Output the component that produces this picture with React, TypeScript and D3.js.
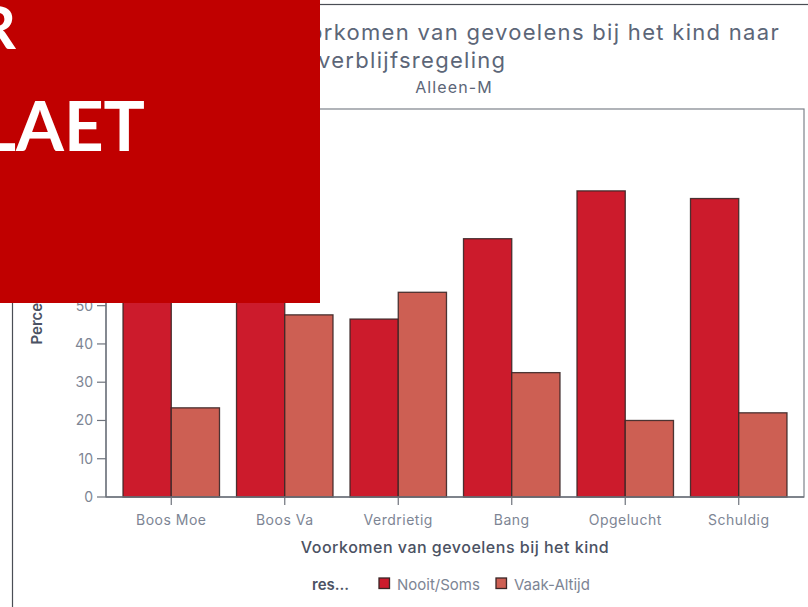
import React from "react";
import * as d3 from "d3";

const categories = ["Boos Moe", "Boos Va", "Verdrietig", "Bang", "Opgelucht", "Schuldig"];
const seriesNames = ["Nooit/Soms", "Vaak-Altijd"];
const nooitSoms = [76.7, 52.4, 46.5, 67.5, 80.0, 78.0];
const vaakAltijd = [23.3, 47.6, 53.5, 32.5, 20.0, 22.0];
const yTicks = [0, 10, 20, 30, 40, 50, 60, 70, 80, 90, 100];
const colors = ["#cc1b2c", "#cd5f53"];

const W = 808;
const H = 607;
const plot = { left: 106, right: 804, top: 109, bottom: 497 };
const FONT = "Inter, 'Noto Sans', sans-serif";

export default function App() {
  const x = d3.scaleBand<string>().domain(categories).range([plot.left, plot.right]).padding(0.15);
  const x1 = d3.scaleBand<string>().domain(seriesNames).range([0, x.bandwidth()]).padding(0);
  const y = d3.scaleLinear().domain([0, 101.4]).range([plot.bottom, plot.top]);
  const seriesValues = [nooitSoms, vaakAltijd];

  return (
    <div style={{ position: "fixed", left: 0, top: 0, width: W, height: H, background: "#fff" }}>
      <svg width={W} height={H} style={{ display: "block" }}>
        <rect x={0} y={0} width={W} height={H} fill="#fff" />
        {/* outer frame */}
        <rect x={12.5} y={4.5} width={900} height={700} fill="none" stroke="#4a4e55" strokeWidth={1.2} />

        {/* title */}
        <text x={780} y={40} textAnchor="end" fontFamily={FONT} fontSize={22} letterSpacing={1.3} fill="#5c6678">
          Voorkomen van gevoelens bij het kind naar
        </text>
        <text x={318} y={68} textAnchor="start" fontFamily={FONT} fontSize={22} letterSpacing={1.3} fill="#5c6678">
          verblijfsregeling
        </text>
        <text x={454} y={92.5} textAnchor="middle" fontFamily={FONT} fontSize={16} letterSpacing={1.1} fill="#5c6678">
          Alleen-M
        </text>

        {/* plot frame */}
        <rect x={plot.left} y={plot.top} width={plot.right - plot.left} height={plot.bottom - plot.top}
          fill="#fff" stroke="#7d828a" strokeWidth={1.2} />

        {/* bars */}
        {categories.map((c, i) => (
          <g key={c} transform={`translate(${x(c)},0)`}>
            {seriesNames.map((s, j) => {
              const v = seriesValues[j][i];
              return (
                <rect key={s} x={x1(s)} y={y(v)} width={x1.bandwidth()} height={y(0) - y(v)}
                  fill={colors[j]} stroke="#3a2626" strokeOpacity={0.9} strokeWidth={1.3} />
              );
            })}
          </g>
        ))}

        {/* y axis */}
        <line x1={plot.left} x2={plot.left} y1={plot.top} y2={plot.bottom} stroke="#6e737c" strokeWidth={1.3} />
        {yTicks.map((t) => (
          <g key={t}>
            <line x1={plot.left - 9} x2={plot.left} y1={y(t)} y2={y(t)} stroke="#6e737c" strokeWidth={1.2} />
            <text x={plot.left - 13} y={y(t)} dy="0.35em" textAnchor="end" fontFamily={FONT} fontSize={14} fill="#7d8594">
              {t}
            </text>
          </g>
        ))}
        <text transform={`translate(37,${(plot.top + plot.bottom) / 2}) rotate(-90)`} textAnchor="middle"
          dy="0.35em" fontFamily={FONT} fontSize={15} fontWeight={600} fill="#4b5263">
          Percentage
        </text>

        {/* x axis */}
        <line x1={plot.left} x2={plot.right} y1={plot.bottom} y2={plot.bottom} stroke="#6e737c" strokeWidth={1.3} />
        {categories.map((c) => {
          const cx = (x(c) ?? 0) + x.bandwidth() / 2;
          return (
            <g key={c}>
              <line x1={cx} x2={cx} y1={plot.bottom} y2={plot.bottom + 8} stroke="#6e737c" strokeWidth={1.2} />
              <text x={cx} y={525} textAnchor="middle" fontFamily={FONT} fontSize={14} letterSpacing={0.5} fill="#7d8594">
                {c}
              </text>
            </g>
          );
        })}
        <text x={(plot.left + plot.right) / 2} y={553} textAnchor="middle" fontFamily={FONT} fontSize={16}
          fontWeight={500} letterSpacing={0.5} fill="#4b5263">
          Voorkomen van gevoelens bij het kind
        </text>

        {/* legend */}
        <text x={312} y={590} fontFamily={FONT} fontSize={15} fontWeight={600} fill="#4b5263">res...</text>
        {seriesNames.map((s, j) => {
          const lx = [379, 496][j];
          return (
            <g key={s}>
              <rect x={lx} y={578} width={10.5} height={10.5} fill={colors[j]} stroke="#3a2626" strokeWidth={1.3} />
              <text x={lx + 18} y={590} fontFamily={FONT} fontSize={15} fill="#7d8594">{s}</text>
            </g>
          );
        })}

        {/* red overlay */}
        <rect x={0} y={0} width={320} height={303} fill="#c00000" />
        <text x={16} y={49} textAnchor="end" fontFamily="Lato, sans-serif" fontWeight={700} fontSize={59} fill="#fff">
          R
        </text>
        <text x={145} y={151} textAnchor="end" fontFamily="Lato, sans-serif" fontWeight={700} fontSize={69} fill="#fff">
          LAET
        </text>
      </svg>
    </div>
  );
}
